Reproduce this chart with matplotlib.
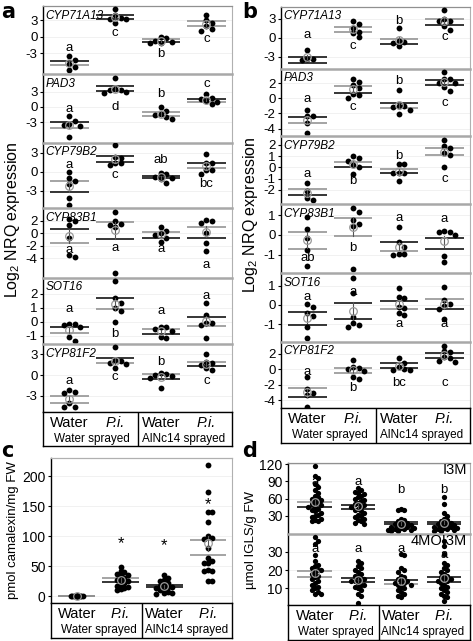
import numpy as np
import matplotlib
matplotlib.use("Agg")
from matplotlib import pyplot as plt

plt.rcParams['font.family'] = ['Liberation Sans', 'DejaVu Sans']
plt.rcParams['mathtext.default'] = 'regular'

W, H = 473, 641
GRAY = '#8c8c8c'

groups = ['Water', 'P.i.', 'Water', 'P.i.']
sprays = ['Water sprayed', 'AlNc14 sprayed']

# ---- panel a : qRT-PCR, experiment 1 ----
a_genes = ['CYP71A13', 'PAD3', 'CYP79B2', 'CYP83B1', 'SOT16', 'CYP81F2']
a_ylim = [(-6.8, 5.55), (-7.1, 6.5), (-5.7, 4.5), (-7.1, 4.0), (-1.6, 3.14), (-5.36, 4.5)]
a_ticks = [[3, 0, -3], [3, 0, -3], [3, 0, -3], [2, 0, -2, -4], [2, 1, 0, -1], [3, 0, -3]]
a_points = {
    'CYP71A13': [[-3.6, -4.2, -4.9, -5.5, -6.0], [5.0, 4.0, 3.4, 3.2, 2.5, 3.1],
                 [-0.1, -0.85, -1.0, -0.3, -1.1, -1.2], [4.0, 3.0, 2.4, 2.0, 1.3, 1.1]],
    'PAD3': [[-1.8, -3.7, -2.8, -3.5, -5.9, -3.4], [5.7, 3.6, 3.3, 3.4, 2.7, 3.0],
             [0.0, -0.85, -1.6, -2.0, -2.4, -1.4], [2.5, 1.8, 1.6, 1.0, 0.5, 1.2]],
    'CYP79B2': [[0.0, -1.05, -1.4, -1.9, -4.2, -5.3], [4.2, 2.2, 2.3, 1.3, 1.05, 1.3],
                [-1.7, -1.15, -0.8, -0.4, -0.2, -1.0], [2.8, 1.4, 1.3, 0.3, 0.2, -0.35]],
    'CYP83B1': [[2.2, 2.0, 1.3, -0.7, -3.5, -3.8], [3.3, 2.0, 1.3, 1.05, 1.4, -6.3],
                [0.95, 0.37, 0.0, -0.3, -0.7, -1.4], [2.1, 1.7, 2.0, 0.1, -1.5, -2.8]],
    'SOT16': [[-0.17, -0.17, -0.36, -1.08, -1.39, -0.2], [2.95, 1.68, 1.32, 0.77, 0.96, 0.0],
              [-0.36, -0.4, -0.5, -1.15, -1.1, -0.7], [1.32, 0.48, -0.07, -0.2, -0.1, -1.15]],
    'CYP81F2': [[-2.42, -2.17, -2.56, -4.68, -4.68, -4.1], [4.06, 2.17, 0.97, 2.0, 1.55, 1.7],
                [0.34, 0.15, -0.2, -0.4, -1.84, 0.0], [3.0, 1.93, 1.7, 0.97, 0.72, 1.4]],
}
a_lines = {
    'CYP71A13': [(-4.4, -5.2), (3.9, 3.1), (-0.4, -0.9), (2.8, 1.9)],
    'PAD3': [(-3.0, -4.1), (4.1, 3.2), (-1.0, -1.8), (1.6, 1.0)],
    'CYP79B2': [(-1.5, -3.2), (2.5, 1.5), (-0.6, -1.0), (1.3, 0.5)],
    'CYP83B1': [(0.65, -1.5), (1.85, -0.96), (0.15, -0.7), (1.05, -0.7)],
    'SOT16': [(-0.4, -0.79), (1.68, 0.89), (-0.55, -0.88), (0.36, -0.29)],
    'CYP81F2': [(-3.0, -4.0), (2.4, 1.7), (0.1, -0.58), (1.93, 1.3)],
}
a_line_col = {
    'CYP71A13': ['kg', 'kk', 'gk', 'gg'], 'PAD3': ['kg', 'kk', 'gg', 'kg'],
    'CYP79B2': ['gk', 'kk', 'kk', 'kg'], 'CYP83B1': ['kg', 'gk', 'gk', 'gk'],
    'SOT16': ['kg', 'kg', 'gk', 'kg'], 'CYP81F2': ['gg', 'kg', 'gk', 'gk'],
}
a_letters = {
    'CYP71A13': ['a', 'c', 'b', 'c'], 'PAD3': ['a', 'd', 'b', 'c'],
    'CYP79B2': ['a', 'c', 'ab', 'bc'], 'CYP83B1': ['a', 'a', 'a', 'a'],
    'SOT16': ['a', 'b', 'a', 'a'], 'CYP81F2': ['a', 'c', 'b', 'c'],
}
a_letter_y = {
    'CYP71A13': [-2.0, 0.7, -3.1, -0.5], 'PAD3': [-0.45, 0.0, 2.6, 4.5],
    'CYP79B2': [1.1, -0.6, 1.8, -1.9], 'CYP83B1': [-2.7, -2.4, -2.55, -5.05],
    'SOT16': [0.9, -0.88, 0.8, 1.87], 'CYP81F2': [-0.83, -0.34, 1.93, -0.83],
}

# ---- panel b : qRT-PCR, experiment 2 ----
b_genes = a_genes
b_ylim = [(-4.96, 4.9), (-4.96, 3.85), (-3.28, 2.8), (-1.93, 1.57), (-1.92, 1.66), (-4.97, 3.5)]
b_ticks = [[3, 0, -3], [2, 0, -2, -4], [2, 1, 0, -1, -2], [1, 0, -1], [1, 0, -1], [2, 0, -2, -4]]
b_points = {
    'CYP71A13': [[-1.96, -3.55, -3.4, -3.3], [2.7, 2.2, 1.5, 0.7, 0.16, 1.0],
                 [1.5, -0.47, -0.9, -1.32, -0.6], [4.4, 3.0, 2.6, 1.95, 1.25, 2.7]],
    'PAD3': [[-1.54, -2.33, -2.33, -3.3, -4.5], [2.6, 2.2, 1.75, 0.57, 0.4, 0.0, 1.3],
             [1.09, -1.0, -1.0, -1.54, -2.07, -1.1], [3.4, 2.54, 2.5, 2.05, 2.0, 1.5, 1.0]],
    'CYP79B2': [[-1.37, -2.09, -2.7, -2.92], [1.0, 0.8, 0.56, 0.2, 0.05, -0.6],
                [0.3, 0.3, -0.48, -0.55, -0.55, -1.2], [2.44, 1.93, 1.7, 1.25, 1.1, 0.0]],
    'CYP83B1': [[0.93, 0.29, -0.17, -0.76, -1.57], [1.35, 1.15, 0.76, 0.56, 0.47, -1.74],
                [0.39, -0.37, -0.59, -0.98, -1.03, -0.95], [0.14, 0.14, 0.2, 0.0, -1.07, -1.36]],
    'SOT16': [[0.05, -0.12, -0.57, -1.16, -1.7, -0.43], [1.41, 0.64, -0.64, -0.95, -1.16, -1.04],
              [0.86, 0.43, 0.38, -0.17, -0.43, -0.5, -0.09], [0.95, 0.26, 0.05, -0.07, -0.22, -0.72]],
    'CYP81F2': [[-1.03, -2.57, -3.3, -3.08, -4.8], [1.2, 0.13, 0.05, -0.2, -1.03, -1.25, 0.35],
                [1.41, 0.85, 0.26, 0.0, -0.05, -0.1], [3.03, 2.35, 2.18, 0.98, 1.54, 1.4, 1.1]],
}
b_lines = {
    'CYP71A13': [(-3.0, -4.0), (1.75, 0.96), (-0.26, -1.05), (2.95, 2.0)],
    'PAD3': [(-2.4, -3.3), (1.6, 0.74), (-0.58, -1.32), (2.4, 1.75)],
    'CYP79B2': [(-1.94, -2.47), (0.5, 0.05), (-0.18, -0.54), (1.75, 1.1)],
    'CYP83B1': [(0.17, -0.71), (0.88, -0.04), (-0.37, -0.81), (-0.17, -0.73)],
    'SOT16': [(-0.38, -1.04), (0.12, -0.74), (0.2, -0.22), (0.3, -0.22)],
    'CYP81F2': [(-2.36, -3.6), (0.2, -0.51), (0.77, 0.2), (2.05, 1.41)],
}
b_line_col = {
    'CYP71A13': ['kk', 'gg', 'gk', 'gk'], 'PAD3': ['kg', 'gk', 'kg', 'kk'],
    'CYP79B2': ['gk', 'gk', 'gk', 'gg'], 'CYP83B1': ['gg', 'gg', 'kg', 'kk'],
    'SOT16': ['kk', 'kk', 'kg', 'gk'], 'CYP81F2': ['gk', 'gg', 'kk', 'kk'],
}
b_letters = {
    'CYP71A13': ['a', 'c', 'b', 'c'], 'PAD3': ['a', 'c', 'b', 'c'],
    'CYP79B2': ['a', 'b', 'b', 'c'], 'CYP83B1': ['ab', 'b', 'a', 'a'],
    'SOT16': ['a', 'a', 'a', 'a'], 'CYP81F2': ['a', 'b', 'bc', 'c'],
}
b_letter_y = {
    'CYP71A13': [0.43, -1.27, 2.7, 0.05], 'PAD3': [-0.1, -1.1, 2.28, -0.66],
    'CYP79B2': [-0.63, -1.2, 1.04, -1.0], 'CYP83B1': [-1.18, -0.64, 0.85, 0.81],
    'SOT16': [0.4, 0.69, -1.0, -1.0], 'CYP81F2': [-0.3, -2.44, -1.72, -1.72],
}

# ---- panel c : camalexin ----
c_points = [[0.2, 0.5, 0.1, 0.8, 0.3, 0.0, 0.6, 0.4, 0.2, 0.7, 0.1, 0.5, 0.3, 0.9, 0.2],
            [49, 42, 40, 38, 36, 35, 30, 28, 27, 25, 22, 20, 18, 16, 14, 12, 10],
            [35, 30, 28, 25, 22, 20, 18, 16, 15, 14, 12, 10, 8, 6, 5, 4],
            [218, 174, 141, 141, 123, 101, 97, 96, 81, 64, 59, 56, 55, 44, 43, 42, 26, 26]]
c_lines = [(0.8, 0.0), (30.5, 23.8), (19.3, 15.0), (93, 68)]
c_line_col = ['gg', 'gk', 'kk', 'gg']
c_stars = ['', '*', '*', '*']
c_star_y = [0, 87, 85, 152]

# ---- panel d : indole glucosinolates ----
d_names = ['I3M', '4MOI3M']
d_ylim = [(-2, 122), (0.9, 39.7)]
d_ticks = [[30, 60, 90, 120], [10, 20, 30]]
d_points = {
    'I3M': [[117, 100, 95, 85, 80, 75, 70, 65, 62, 60, 58, 55, 52, 50, 48, 46, 45, 42, 40, 38,
             35, 32, 30, 28, 25, 22, 20, 20],
            [78, 75, 72, 70, 68, 65, 62, 60, 58, 55, 52, 50, 48, 46, 45, 42, 40, 38, 35, 32, 30,
             28, 25, 22, 20, 18, 16],
            [42, 40, 40, 25, 22, 20, 18, 16, 15, 14, 13, 12, 11, 10, 9, 8, 7, 6, 5, 5, 4, 3],
            [62, 50, 35, 30, 25, 22, 20, 18, 16, 15, 14, 13, 12, 11, 10, 9, 8, 7, 6, 5, 4, 3]],
    '4MOI3M': [[38, 36, 34, 28, 25, 23, 22, 21, 20, 20, 19, 18, 17, 16, 15, 14, 13, 12, 11, 10,
                9, 8, 7, 7],
               [25, 24, 22, 21, 20, 19, 18, 17, 16, 15, 15, 14, 14, 13, 12, 12, 11, 10, 9, 7, 6, 2],
               [29, 28, 21, 20, 19, 17, 16, 15, 14, 14, 13, 13, 12, 12, 11, 10, 9, 8, 7, 6, 5],
               [36, 33, 29, 24, 23, 21, 20, 19, 18, 17, 16, 15, 15, 14, 14, 13, 12, 11, 10, 9, 8,
                7, 6, 5, 3]],
}
d_lines = {'I3M': [(54, 46), (48, 41), (19.5, 15), (19.5, 16)],
           '4MOI3M': [(19.6, 16.3), (15.5, 13.3), (14.5, 12.4), (16, 13.3)]}
d_line_col = {'I3M': ['gk', 'kk', 'kk', 'kk'], '4MOI3M': ['gg', 'kk', 'kg', 'kk']}
d_letters = {'I3M': ['a', 'a', 'b', 'b'], '4MOI3M': ['a', 'a', 'a', 'a']}
d_letter_y = {'I3M': [89, 89, 75, 74], '4MOI3M': [31.5, 31.5, 31.5, 28.0]}


fig = plt.figure(figsize=(W / 100, H / 100), dpi=100)


def px_axes(x0, y0, x1, y1):
    return fig.add_axes([x0 / W, 1 - y1 / H, (x1 - x0) / W, (y1 - y0) / H])


def swarm(vals, tol, step):
    # simple beeswarm: shift a point sideways when it would sit on a neighbour
    vals = np.asarray(vals, dtype=float)
    order = np.argsort(-vals)
    offs = np.zeros(len(vals))
    placed = []
    pattern = [0, 1, -1, 2, -2, 3, -3, 4, -4]
    for i in order:
        near = [offs[j] for j in placed if abs(vals[j] - vals[i]) < tol]
        for p in pattern:
            if all(abs(p * step - o) > step * 0.9 for o in near):
                offs[i] = p * step
                break
        placed.append(i)
    return offs


def draw_group(ax, i, pts, lines, cols, ms, tol, step, half=0.42):
    pts = np.asarray(pts, dtype=float)
    ax.plot(i + swarm(pts, tol, step), pts, 'o', color='black', ms=ms, mew=0, zorder=3)
    for v, c in zip(lines, cols):
        ax.plot([i - half, i + half], [v, v], color='black' if c == 'k' else GRAY,
                lw=1.1, zorder=2, solid_capstyle='butt')
    m = pts.mean()
    se = pts.std(ddof=1) / np.sqrt(len(pts))
    ax.plot([i, i], [m - se, m + se], color='#555555', lw=0.8, zorder=4)
    ax.plot(i, m, 'o', mfc='none', mec='#9a9a9a', ms=5.5, mew=0.9, zorder=5)


def style_axes(ax, ylim, ticks, xlim, first, last):
    ax.set_xlim(*xlim)
    ax.set_ylim(*ylim)
    ax.set_yticks(ticks)
    ax.set_yticklabels([str(t) if t >= 0 else '-' + str(-t) for t in ticks])
    ax.set_xticks([])
    ax.tick_params(axis='y', length=2.5, width=0.8, labelsize=9.5, pad=1.5)
    for t in ticks:
        ax.axhline(t, color='#efefef', lw=0.6, zorder=0)
    ax.spines['left'].set_color('black')
    ax.spines['left'].set_linewidth(1.0)
    ax.spines['right'].set_color('#b0b0b0')
    ax.spines['right'].set_linewidth(0.8)
    ax.spines['top'].set_color('#a8a8a8' if not first else '#909090')
    ax.spines['top'].set_linewidth(1.8 if not first else 0.9)
    ax.spines['bottom'].set_visible(last)
    ax.spines['bottom'].set_color('black')


def label_box(x0, y0, x1, y1, xlim):
    ax = px_axes(x0, y0, x1, y1)
    ax.set_xlim(*xlim)
    ax.set_ylim(0, 1)
    ax.set_xticks([])
    ax.set_yticks([])
    for s in ax.spines.values():
        s.set_color('black')
        s.set_linewidth(1.0)
    ax.axvline(1.5, color='black', lw=1.0)
    for i, g in enumerate(groups):
        ax.text(i, 0.68, g, ha='center', va='center', fontsize=10.5,
                style='italic' if g == 'P.i.' else 'normal')
    for k, s in enumerate(sprays):
        ax.text(0.5 + 2 * k, 0.22, s, ha='center', va='center', fontsize=8.5)


def gene_panel(x0, x1, rows, genes, ylims, ticks, points, lines, line_col, letters, letter_y):
    xlim = (-0.58, 3.56)
    for r, g in enumerate(genes):
        ax = px_axes(x0, rows[r], x1, rows[r + 1])
        style_axes(ax, ylims[r], ticks[r], xlim, r == 0, r == len(genes) - 1)
        span = ylims[r][1] - ylims[r][0]
        for i in range(4):
            draw_group(ax, i, points[g][i], lines[g][i], line_col[g][i], 4.2, span * 0.08, 0.12)
            ax.text(i, letter_y[g][i], letters[g][i], ha='center', va='center', fontsize=9.5)
        ax.text(0.012, 0.86, g, transform=ax.transAxes, ha='left', va='center',
                fontsize=8.5, style='italic')
    return xlim


# panel a
rows_a = [6, 74, 143, 208, 278, 344, 412]
xl = gene_panel(43, 232, rows_a, a_genes, a_ylim, a_ticks, a_points, a_lines, a_line_col,
                a_letters, a_letter_y)
label_box(43, 412, 232, 446, xl)
fig.text(13 / W, 1 - 220 / H, 'Log$_2$ NRQ expression', rotation=90, ha='center', va='center',
         fontsize=11.5)

# panel b
rows_b = [7, 69, 136, 204, 273, 342, 408]
xl = gene_panel(281, 470, rows_b, b_genes, b_ylim, b_ticks, b_points, b_lines, b_line_col,
                b_letters, b_letter_y)
label_box(281, 408, 470, 443, xl)
fig.text(251 / W, 1 - 215 / H, 'Log$_2$ NRQ expression', rotation=90, ha='center', va='center',
         fontsize=11.5)

# panel c
xl = (-0.59, 3.55)
ax = px_axes(51, 458, 232, 603)
style_axes(ax, (-11, 230), [0, 50, 100, 150, 200], xl, True, True)
ax.spines['top'].set_color('#b0b0b0')
ax.tick_params(axis='y', labelsize=10)
c_steps = [0.035, 0.09, 0.09, 0.1]
for i in range(4):
    draw_group(ax, i, c_points[i], c_lines[i], c_line_col[i], 4.2, 7, c_steps[i])
    if c_stars[i]:
        ax.text(i, c_star_y[i], c_stars[i], ha='center', va='center', fontsize=12)
label_box(51, 603, 232, 638, xl)
fig.text(13 / W, 1 - 530 / H, 'pmol camalexin/mg FW', rotation=90, ha='center', va='center',
         fontsize=9.5)

# panel d
xl = (-0.62, 3.6)
rows_d = [463, 534, 605]
for r, n in enumerate(d_names):
    ax = px_axes(288, rows_d[r], 470, rows_d[r + 1])
    style_axes(ax, d_ylim[r], d_ticks[r], xl, r == 0, r == 1)
    ax.tick_params(axis='y', labelsize=10)
    span = d_ylim[r][1] - d_ylim[r][0]
    for i in range(4):
        draw_group(ax, i, d_points[n][i], d_lines[n][i], d_line_col[n][i], 3.8, span * 0.06, 0.075,
                   half=0.4)
        ax.text(i, d_letter_y[n][i], d_letters[n][i], ha='center', va='center', fontsize=9.5)
    ax.text(0.985, 0.9, n, transform=ax.transAxes, ha='right', va='center', fontsize=10.5)
label_box(288, 605, 470, 640, xl)
fig.text(251 / W, 1 - 540 / H, '\u00b5mol IGLS/g FW', rotation=90, ha='center', va='center',
         fontsize=9.5)

for lab, x, y in [('a', 1, 12), ('b', 242, 12), ('c', 1, 451), ('d', 242, 451)]:
    fig.text(x / W, 1 - y / H, lab, ha='left', va='center', fontsize=15, fontweight='bold',
             family='DejaVu Sans')

fig.savefig('out.png', dpi=100)
